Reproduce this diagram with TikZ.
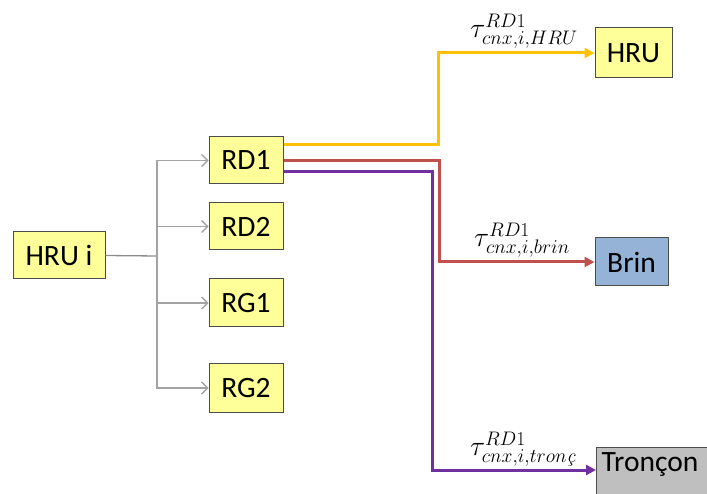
\RequirePackage{fix-cm}
\documentclass[tikz,border=0pt]{standalone}
\usepackage{fontspec}
\setmainfont{Carlito}
\newfontfamily\lmitfam{Latin Modern Roman}
\usetikzlibrary{arrows.meta,calc}
\definecolor{boxyel}{HTML}{FFFF99}
\definecolor{boxblue}{HTML}{95B3D7}
\definecolor{boxgray}{HTML}{BFBFBF}
\definecolor{lyel}{HTML}{FFC000}
\definecolor{lred}{HTML}{C0504D}
\definecolor{lpur}{HTML}{7030A0}
\definecolor{lgray}{HTML}{8C8C8C}
\tikzset{
  box/.style={draw=black!70, line width=1pt, fill=boxyel, inner sep=0pt,
    font=\fontsize{29.5}{31}\selectfont, anchor=center},
  gline/.style={draw=lgray, line width=1.3pt},
  garrow/.style={draw=lgray!80, line width=1.3pt, -{Straight Barb[length=6pt,width=12pt]}},
  cline/.style={line width=3pt, -{Triangle[length=10pt,width=10pt]}},
  tlabel/.style={font=\fontsize{28}{30}\selectfont, inner sep=0pt}
}
\begin{document}
\begin{tikzpicture}[x=1pt,y=-1pt]
\useasboundingbox (0,0) rectangle (707,494);
\clip (0,0) rectangle (707,494);
% boxes
\node[box, minimum width=92pt, minimum height=47pt] (HRUi) at (59,255.5) {HRU i};
\node[box, minimum width=74pt, minimum height=47pt] (RD1) at (246,160.5) {RD1};
\node[box, minimum width=74pt, minimum height=47pt] (RD2) at (246,226.5) {RD2};
\node[box, minimum width=74pt, minimum height=48pt] (RG1) at (246,303) {RG1};
\node[box, minimum width=74pt, minimum height=48pt] (RG2) at (246,388) {RG2};
\node[box, minimum width=77pt, minimum height=50pt] (HRU) at (633.5,53) {HRU};
\node[box, fill=boxblue, minimum width=73pt, minimum height=48pt] (Brin) at (631.5,262) {Brin};
\node[box, fill=boxgray, minimum width=120pt, minimum height=60pt, anchor=north west] (Tron) at (596,447) {};
\node[font=\fontsize{29.5}{31}\selectfont, inner sep=0pt] (TronT) at (650,465) {Tronçon};
% gray tree
\coordinate (tk) at (157,256);
\draw[gline] (HRUi.east) -- (tk);
\draw[garrow] (tk) |- (RD1.west);
\draw[garrow] (tk) |- (RD2.west);
\draw[garrow] (tk) |- (RG1.west);
\draw[garrow] (tk) |- (RG2.west);
% colored connectors
\coordinate (ya) at ($(RD1.east)+(0,-15.5)$);
\coordinate (ra) at ($(RD1.east)+(0,0.5)$);
\coordinate (pa) at ($(RD1.east)+(0,11)$);
\coordinate (yx) at (438,0);
\coordinate (rx) at (439,0);
\coordinate (px) at (432,0);
\coordinate (pt) at (596,470);
\draw[cline, lyel] (ya) -- (ya -| yx) |- (HRU.west);
\draw[cline, lred] (ra) -- (ra -| rx) |- (Brin.west);
\draw[cline, lpur] (pa) -- (pa -| px) |- (pt);
% labels
\node[tlabel] (l1) at (524,31) {$\tau^{RD1}_{cnx,i,HRU}$};
\node[tlabel] (l2) at (522,240) {$\tau^{RD1}_{cnx,i,brin}$};
\node[tlabel] (l3) at (523,449) {$\tau^{RD1}_{cnx,i,tron\mbox{\lmitfam\itshape\fontsize{19.6}{21}\selectfont ç}}$};
\end{tikzpicture}
\end{document}
